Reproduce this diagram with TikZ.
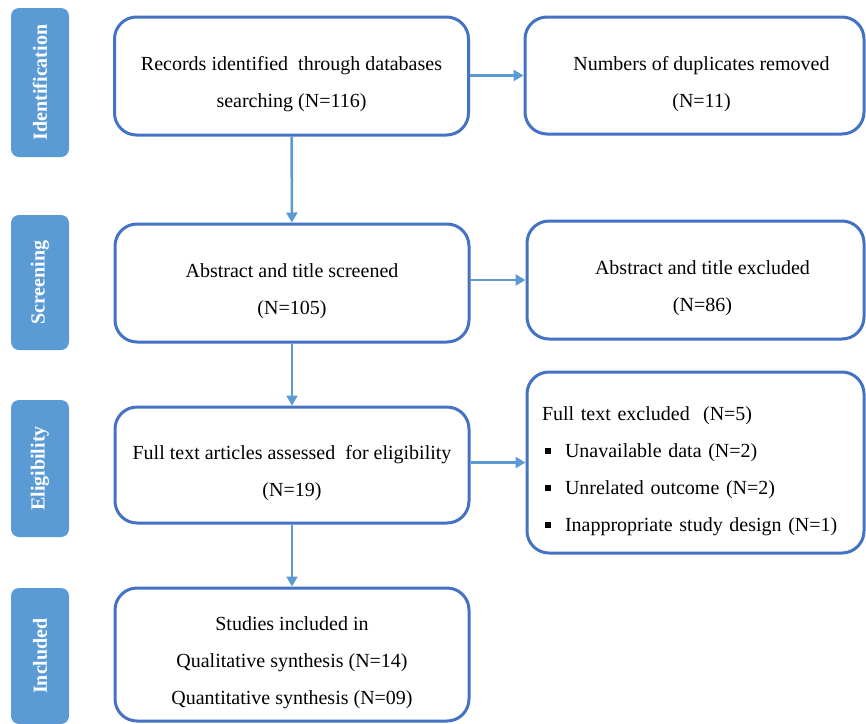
\documentclass[tikz,border=0pt]{standalone}
\usepackage{fontspec}
\setmainfont{Liberation Serif}
\usepackage{tikz}
\usetikzlibrary{arrows.meta}

\definecolor{boxblue}{RGB}{68,114,196}
\definecolor{barblue}{RGB}{91,155,213}
\newcommand{\sqitem}{\hspace*{3pt}\raisebox{3pt}{\rule{6pt}{6pt}}\hspace*{14pt}}
\newcommand{\lift}{\rule{0pt}{31pt}}

\begin{document}
\begin{tikzpicture}[x=1pt,y=-1pt,
    box/.style={draw=boxblue,line width=3pt,rounded corners=22pt,fill=white,
      align=center,font=\fontsize{20}{37}\selectfont,minimum width=354pt},
    stage/.style={fill=barblue,rounded corners=8pt,rotate=90,minimum height=58pt,
      text=white,font=\fontsize{20}{24}\selectfont\bfseries},
    flow/.style={draw=barblue,line width=2.5pt,-{Triangle[length=10pt,width=11pt]}}]
    \useasboundingbox (0,0) rectangle (866,723);

    % stages
    \node[stage,minimum width=149pt] (sid) at (40,82.5) {Identification};
    \node[stage,minimum width=135pt] (ssc) at (40,282.5) {Screening};
    \node[stage,minimum width=137pt] (sel) at (40,468.5) {Eligibility};
    \node[stage,minimum width=136pt] (sin) at (40,656) {Included};

    % main column
    \node[box,minimum height=118pt] (rec) at (291.5,76)
      {\lift Records identified\ \ through databases\\searching (N=116)};
    \node[box,minimum height=118pt] (abs) at (292,283)
      {\lift Abstract and title screened\\(N=105)};
    \node[box,minimum height=116pt] (full) at (292,465)
      {\lift Full text articles assessed\ \ for eligibility\\(N=19)};
    \node[box,minimum height=133pt] (inc) at (292,654.5)
      {\lift Studies included in\\Qualitative synthesis (N=14)\\Quantitative synthesis (N=09)};

    % excluded column
    \node[box,minimum width=339pt,minimum height=117pt] (dup) at (694.5,75.5)
      {\lift\hspace*{14pt}Numbers of duplicates removed\\\hspace*{14pt}(N=11)};
    \node[box,minimum width=337pt,minimum height=118pt] (absx) at (695.5,280)
      {\lift\hspace*{14pt}Abstract and title excluded\\\hspace*{14pt}(N=86)};
    \node[box,minimum width=337pt,minimum height=181pt,align=left,
      text width=307pt,inner xsep=15pt] (fullx) at (695.5,462.5)
      {\lift Full text excluded\ \ (N=5)\\\sqitem Unavailable data (N=2)\\
       \sqitem Unrelated outcome (N=2)\\\sqitem Inappropriate study design (N=1)};

    \draw[flow] (rec) -- (abs);
    \draw[flow] (abs) -- (full);
    \draw[flow] (full) -- (inc);
    \draw[flow] (rec.east |- dup) -- (dup.west);
    \draw[flow] (abs.east |- absx) -- (absx.west);
    \draw[flow] (full.east |- fullx) -- (fullx.west);
  \end{tikzpicture}
\end{document}
